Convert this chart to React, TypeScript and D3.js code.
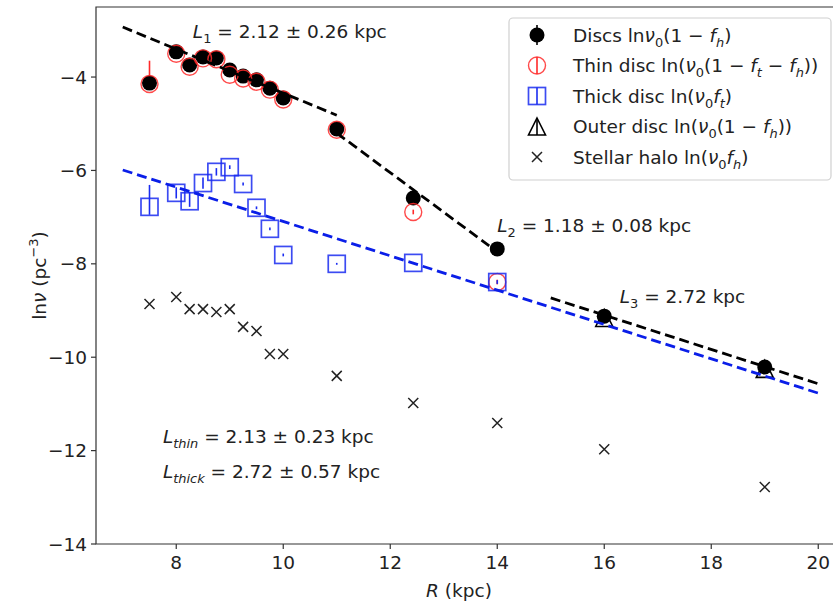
import React from 'react';
import * as d3 from 'd3';

// galactocentric radius of each bin (kpc)
const radius = [7.5, 8, 8.25, 8.5, 8.75, 9, 9.25, 9.5, 9.75, 10, 11, 12.43, 14, 16, 19];

// total disc ln(nu0 (1 - fh)) for every bin
const discs = [-4.13, -3.46, -3.74, -3.57, -3.59, -3.85, -3.98, -4.06, -4.24, -4.45, -5.11, -6.59, -7.68, -9.12, -10.21];
const discsErr = [0.05, 0.04, 0.04, 0.04, 0.04, 0.03, 0.03, 0.03, 0.03, 0.03, 0.03, 0.03, 0.03, 0.03, 0.03];

// thin disc, first 13 bins
const thin = [-4.15, -3.5, -3.78, -3.6, -3.62, -3.95, -4.03, -4.1, -4.27, -4.48, -5.13, -6.89, -8.39];
const thinErrLo = [0.05, 0.04, 0.04, 0.04, 0.04, 0.03, 0.03, 0.03, 0.03, 0.03, 0.03, 0.05, 0.05];
const thinErrHi = [0.5, 0.04, 0.04, 0.04, 0.04, 0.03, 0.03, 0.03, 0.03, 0.03, 0.03, 0.05, 0.05];

// thick disc, first 13 bins
const thick = [-6.78, -6.48, -6.66, -6.27, -6.03, -5.93, -6.29, -6.8, -7.25, -7.81, -8.0, -7.98, -8.39];
const thickErrLo = [0.17, 0.12, 0.12, 0.12, 0.08, 0.04, 0.03, 0.03, 0.03, 0.03, 0.02, 0.02, 0.04];
const thickErrHi = [0.47, 0.12, 0.2, 0.12, 0.08, 0.04, 0.03, 0.03, 0.03, 0.03, 0.02, 0.02, 0.04];

// outer disc (last two bins)
const outerR = [16, 19];
const outer = [-9.16, -10.25];

// stellar halo ln(nu0 fh)
const halo = [-8.86, -8.71, -8.97, -8.97, -9.03, -8.97, -9.35, -9.44, -9.93, -9.93, -10.4, -10.98, -11.41, -11.97, -12.78];

// exponential fits: start/end radius, value at start, scale length
const fitFrom = [7, 11, 15, 7];
const fitTo = [11, 13.85, 20, 20];
const fitStartValue = [-2.93, -5.2, -8.73, -5.99];
const fitLength = [2.12, 1.18, 2.72, 2.72];
const fitColor = ['#000', '#000', '#000', '#0a1ee8'];

const xTicks = [8, 10, 12, 14, 16, 18, 20];
const yTicks = [-14, -12, -10, -8, -6, -4];

const width = 833;
const height = 603;
const font = 'DejaVu Sans, sans-serif';
const fs = 18.5;

type Seg = { t: string; i?: boolean; sub?: boolean; sup?: boolean };
const n = (t: string): Seg => ({ t });
const it = (t: string): Seg => ({ t, i: true });
const sb = (t: string, i = false): Seg => ({ t, sub: true, i });
const sp = (t: string): Seg => ({ t, sup: true });

const MathText = ({ segs, ...rest }: { segs: Seg[]; [k: string]: any }) => {
  let cur = 0;
  return (
    <text fontFamily={font} fontSize={fs} fill='#222' {...rest}>
      {segs.map((s, k) => {
        const target = s.sub ? 5 : s.sup ? -8 : 0;
        const dy = target - cur;
        cur = target;
        return (
          <tspan key={k} dy={dy} fontStyle={s.i ? 'italic' : 'normal'}
            fontSize={s.sub || s.sup ? fs * 0.7 : fs} style={{ whiteSpace: 'pre' }}>
            {s.t}
          </tspan>
        );
      })}
    </text>
  );
};

const legendItems: Seg[][] = [
  [n('Discs ln'), it('ν'), sb('0'), n('(1 − '), it('f'), sb('h', true), n(')')],
  [n('Thin disc ln('), it('ν'), sb('0'), n('(1 − '), it('f'), sb('t', true), n(' − '), it('f'), sb('h', true), n('))')],
  [n('Thick disc ln('), it('ν'), sb('0'), it('f'), sb('t', true), n(')')],
  [n('Outer disc ln('), it('ν'), sb('0'), n('(1 − '), it('f'), sb('h', true), n('))')],
  [n('Stellar halo ln('), it('ν'), sb('0'), it('f'), sb('h', true), n(')')],
];

const Circle = ({ cx, cy }: { cx: number; cy: number }) => <circle cx={cx} cy={cy} r={7.5} fill='#000' />;
const Ring = ({ cx, cy }: { cx: number; cy: number }) => (
  <circle cx={cx} cy={cy} r={8.5} fill='none' stroke='#ff2a2a' strokeWidth={1.4} opacity={0.85} />
);
const Square = ({ cx, cy }: { cx: number; cy: number }) => (
  <rect x={cx - 8.5} y={cy - 8.5} width={17} height={17} fill='none' stroke='#1a2cf0' strokeWidth={1.7} opacity={0.85} />
);
const Tri = ({ cx, cy }: { cx: number; cy: number }) => (
  <path d={`M${cx},${cy - 8.5}L${cx + 8.5},${cy + 8.5}L${cx - 8.5},${cy + 8.5}Z`} fill='none' stroke='#000' strokeWidth={1.6} />
);
const Cross = ({ cx, cy }: { cx: number; cy: number }) => (
  <path d={`M${cx - 5},${cy - 5}L${cx + 5},${cy + 5}M${cx - 5},${cy + 5}L${cx + 5},${cy - 5}`} stroke='#222' strokeWidth={1.5} />
);

const App = () => {
  const x = d3.scaleLinear().domain([6.5, 20.5]).range([96, 845]);
  const y = d3.scaleLinear().domain([-14, -2.5]).range([544, 7]);
  const left = x.range()[0];
  const right = x.range()[1];
  const top = y.range()[1];
  const bottom = y.range()[0];

  const fitLine = d3.line<[number, number]>().x(d => x(d[0])).y(d => y(d[1]));

  const errBar = (r: number, v: number, lo: number, hi: number, color: string, key: string) => (
    <line key={key} x1={x(r)} x2={x(r)} y1={y(v - lo)} y2={y(v + hi)} stroke={color} strokeWidth={1.6} />
  );

  return (
    <svg width={width} height={height} style={{ position: 'absolute', left: 0, top: 0, background: '#fff' }}>
      <rect width={width} height={height} fill='#fff' />

      {/* spines */}
      <path d={`M${right},${top}H${left}V${bottom}H${right}`} fill='none' stroke='#333' strokeWidth={1.2} />

      {xTicks.map(t => (
        <g key={`xt${t}`}>
          <line x1={x(t)} x2={x(t)} y1={bottom} y2={bottom + 5} stroke='#333' strokeWidth={1.2} />
          <text x={x(t)} y={bottom + 25} textAnchor='middle' fontFamily={font} fontSize={fs} fill='#222'>{t}</text>
        </g>
      ))}
      {yTicks.map(t => (
        <g key={`yt${t}`}>
          <line x1={left - 5} x2={left} y1={y(t)} y2={y(t)} stroke='#333' strokeWidth={1.2} />
          <text x={left - 9} y={y(t) + 6.5} textAnchor='end' fontFamily={font} fontSize={fs} fill='#222'>
            {d3.format('')(t).replace('-', '−')}
          </text>
        </g>
      ))}

      <MathText segs={[it('R'), n(' (kpc)')]} x={459} y={597} textAnchor='middle' />
      <MathText segs={[n('ln'), it('ν'), n(' (pc'), sp('−3'), n(')')]}
        transform={`translate(46, ${(top + bottom) / 2}) rotate(-90)`} textAnchor='middle' />

      {/* error bars */}
      {discs.map((v, i) => errBar(radius[i], v, discsErr[i], discsErr[i], '#000', `de${i}`))}
      {thin.map((v, i) => errBar(radius[i], v, thinErrLo[i], thinErrHi[i], '#ff2a2a', `te${i}`))}
      {thick.map((v, i) => errBar(radius[i], v, thickErrLo[i], thickErrHi[i], '#1a2cf0', `ke${i}`))}

      {/* markers */}
      {discs.map((v, i) => <Circle key={`d${i}`} cx={x(radius[i])} cy={y(v)} />)}
      {thin.map((v, i) => <Ring key={`t${i}`} cx={x(radius[i])} cy={y(v)} />)}
      {thick.map((v, i) => <Square key={`k${i}`} cx={x(radius[i])} cy={y(v)} />)}
      {outer.map((v, i) => <Tri key={`o${i}`} cx={x(outerR[i])} cy={y(v)} />)}
      {halo.map((v, i) => <Cross key={`h${i}`} cx={x(radius[i])} cy={y(v)} />)}

      {/* fits */}
      {fitFrom.map((r0, i) => {
        const r1 = fitTo[i];
        const v1 = fitStartValue[i] - (r1 - r0) / fitLength[i];
        return (
          <path key={`f${i}`} d={fitLine([[r0, fitStartValue[i]], [r1, v1]]) || ''}
            fill='none' stroke={fitColor[i]} strokeWidth={2.8} strokeDasharray='10,5' />
        );
      })}

      {/* annotations */}
      <MathText segs={[it('L'), sb('1'), n(' = 2.12 ± 0.26 kpc')]} x={x(8.31)} y={y(-3.17)} />
      <MathText segs={[it('L'), sb('2'), n(' = 1.18 ± 0.08 kpc')]} x={x(14.0)} y={y(-7.32)} />
      <MathText segs={[it('L'), sb('3'), n(' = 2.72 kpc')]} x={x(16.29)} y={y(-8.84)} />
      <MathText segs={[it('L'), sb('thin', true), n(' = 2.13 ± 0.23 kpc')]} x={x(7.75)} y={y(-11.84)} />
      <MathText segs={[it('L'), sb('thick', true), n(' = 2.72 ± 0.57 kpc')]} x={x(7.75)} y={y(-12.59)} />

      {/* legend */}
      <rect x={509} y={18} width={322} height={162} rx={4} fill='#fff' fillOpacity={0.85} stroke='#d0d0d0' strokeWidth={1.2} />
      {legendItems.map((segs, i) => {
        const cy = 35 + i * 30.5;
        const mx = 537;
        return (
          <g key={`l${i}`}>
            {i === 0 && <><line x1={mx} x2={mx} y1={cy - 10} y2={cy + 10} stroke='#000' strokeWidth={1.6} /><Circle cx={mx} cy={cy} /></>}
            {i === 1 && <><line x1={mx} x2={mx} y1={cy - 8.5} y2={cy + 8.5} stroke='#ff2a2a' strokeWidth={1.6} /><Ring cx={mx} cy={cy} /></>}
            {i === 2 && <><line x1={mx} x2={mx} y1={cy - 8.5} y2={cy + 8.5} stroke='#1a2cf0' strokeWidth={1.6} /><Square cx={mx} cy={cy} /></>}
            {i === 3 && <><line x1={mx} x2={mx} y1={cy - 8.5} y2={cy + 8.5} stroke='#000' strokeWidth={1.6} /><Tri cx={mx} cy={cy} /></>}
            {i === 4 && <Cross cx={mx} cy={cy} />}
            <MathText segs={segs} x={573} y={cy + 6.5} />
          </g>
        );
      })}
    </svg>
  );
};

export default App;
